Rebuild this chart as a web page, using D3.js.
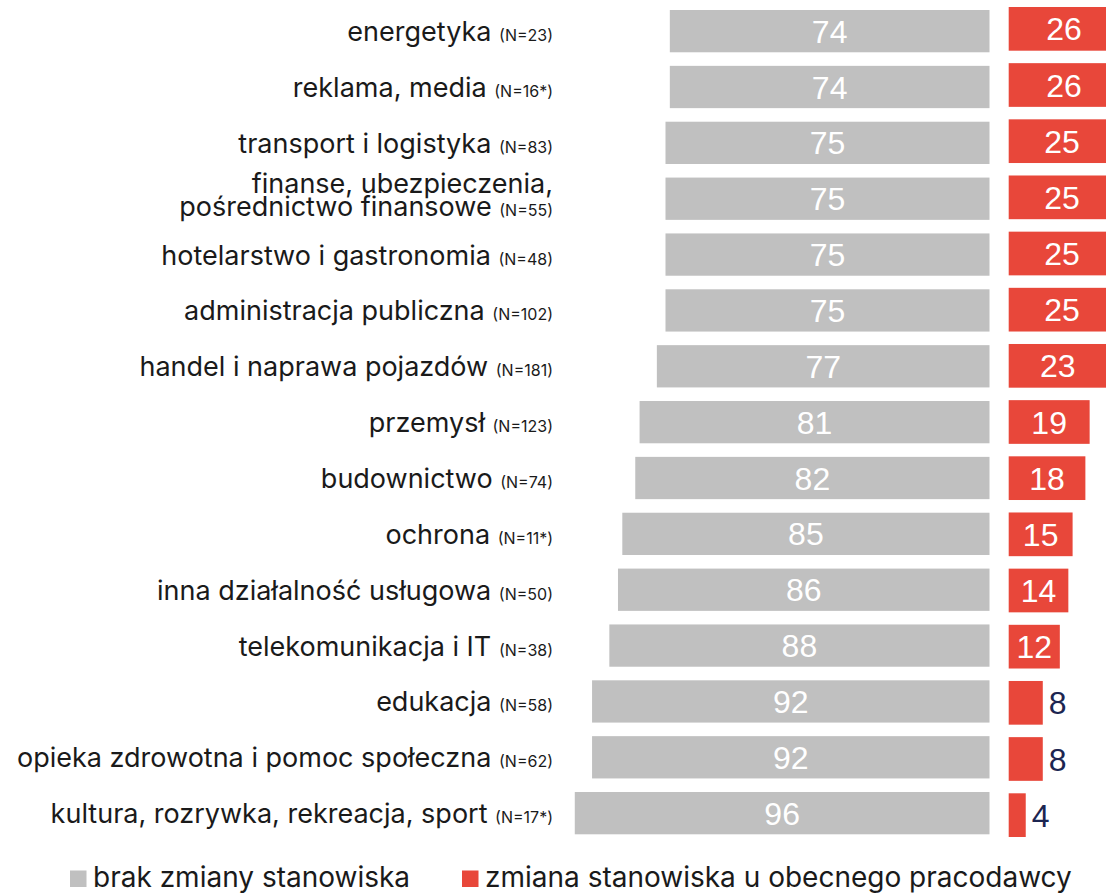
<!DOCTYPE html>
<html>
<head>
<meta charset="utf-8">
<script src="https://cdn.jsdelivr.net/npm/d3@7/dist/d3.min.js"></script>
<style>
  html, body { margin: 0; padding: 0; background: #ffffff; }
  svg { display: block; }
</style>
</head>
<body>
<svg id="chart" width="1106" height="893"></svg>
<script>
// ---- data ----
const categories = [
  ["energetyka"],
  ["reklama, media"],
  ["transport i logistyka"],
  ["finanse, ubezpieczenia,", "pośrednictwo finansowe"],
  ["hotelarstwo i gastronomia"],
  ["administracja publiczna"],
  ["handel i naprawa pojazdów"],
  ["przemysł"],
  ["budownictwo"],
  ["ochrona"],
  ["inna działalność usługowa"],
  ["telekomunikacja i IT"],
  ["edukacja"],
  ["opieka zdrowotna i pomoc społeczna"],
  ["kultura, rozrywka, rekreacja, sport"]
];
const sampleSizes = ["(N=23)", "(N=16*)", "(N=83)", "(N=55)", "(N=48)", "(N=102)", "(N=181)", "(N=123)", "(N=74)", "(N=11*)", "(N=50)", "(N=38)", "(N=58)", "(N=62)", "(N=17*)"];
const noChange = [74, 74, 75, 75, 75, 75, 77, 81, 82, 85, 86, 88, 92, 92, 96];
const changeSameEmployer = [26, 26, 25, 25, 25, 25, 23, 19, 18, 15, 14, 12, 8, 8, 4];
const seriesNames = ["brak zmiany stanowiska", "zmiana stanowiska u obecnego pracodawcy"];

// ---- styles ----
const GRAY = "#c0c0c0";
const RED = "#e8473a";
const NAVY = "#1c2551";
const TEXT = "#1a1a1a";
const LABEL_FONT = "Inter, 'Noto Sans', sans-serif";
const NUM_FONT = "'Liberation Sans', Arial, sans-serif";

const svg = d3.select("#chart");
const idx = d3.range(categories.length);

// scales
const yGray = d3.scaleBand().domain(idx).range([10, 834.3]).paddingInner(0.243).paddingOuter(0);
const yRed = d3.scaleBand().domain(idx).range([7, 837]).paddingInner(0.222).paddingOuter(0);
const xGray = d3.scaleLinear().domain([0, 100]).range([989.5, 557.5]);
const xRed = d3.scaleLinear().domain([0, 100]).range([1008.7, 1434.7]);

// gray bars (right-aligned)
svg.append("g").selectAll("rect").data(idx).join("rect")
  .attr("x", i => xGray(noChange[i]))
  .attr("y", i => yGray(i))
  .attr("width", i => xGray(0) - xGray(noChange[i]))
  .attr("height", yGray.bandwidth())
  .attr("fill", GRAY);

svg.append("g").selectAll("text").data(idx).join("text")
  .attr("x", i => (xGray(0) + xGray(noChange[i])) / 2)
  .attr("y", i => yGray(i) + yGray.bandwidth() / 2)
  .attr("dy", "0.36em")
  .attr("text-anchor", "middle")
  .attr("font-family", NUM_FONT)
  .attr("font-size", 32)
  .attr("fill", "#ffffff")
  .text(i => noChange[i]);

// red bars
svg.append("g").selectAll("rect").data(idx).join("rect")
  .attr("x", xRed(0))
  .attr("y", i => yRed(i))
  .attr("width", i => xRed(changeSameEmployer[i]) - xRed(0))
  .attr("height", yRed.bandwidth())
  .attr("fill", RED);

svg.append("g").selectAll("text").data(idx).join("text")
  .attr("x", i => changeSameEmployer[i] >= 10
      ? (xRed(0) + xRed(changeSameEmployer[i])) / 2
      : xRed(changeSameEmployer[i]) + 6)
  .attr("y", i => yRed(i) + yRed.bandwidth() / 2)
  .attr("dy", "0.36em")
  .attr("text-anchor", i => changeSameEmployer[i] >= 10 ? "middle" : "start")
  .attr("font-family", NUM_FONT)
  .attr("font-size", 32)
  .attr("fill", i => changeSameEmployer[i] >= 10 ? "#ffffff" : NAVY)
  .text(i => changeSameEmployer[i]);

// category labels
const labelX = 553;
const lg = svg.append("g").attr("font-family", LABEL_FONT).attr("fill", TEXT);
idx.forEach(i => {
  const lines = categories[i];
  const cy = yGray(i) + yGray.bandwidth() / 2;
  lines.forEach((line, j) => {
    const isLast = j === lines.length - 1;
    const baseY = lines.length === 1 ? cy + 10 : cy - 6 + j * 23;
    const t = lg.append("text")
      .attr("x", labelX)
      .attr("y", baseY)
      .attr("text-anchor", "end")
      .attr("font-size", 27);
    t.append("tspan").text(line + (isLast ? " " : ""));
    if (isLast) {
      t.append("tspan").attr("font-size", 16).text(sampleSizes[i]);
    }
  });
});

// legend
const legend = svg.append("g").attr("font-family", LABEL_FONT).attr("fill", TEXT);
const legendItems = [
  { name: seriesNames[0], color: GRAY, x: 70 },
  { name: seriesNames[1], color: RED, x: 462 }
];
legendItems.forEach(d => {
  legend.append("rect").attr("x", d.x).attr("y", 870.5).attr("width", 16.5).attr("height", 16.5).attr("fill", d.color);
  legend.append("text").attr("x", d.x + 23).attr("y", 887).attr("font-size", 28).text(d.name);
});
</script>
</body>
</html>
